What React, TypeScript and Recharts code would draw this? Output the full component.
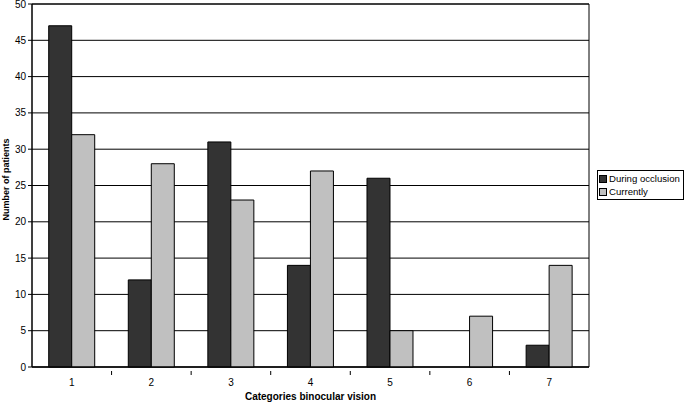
import { BarChart, Bar, XAxis, YAxis, CartesianGrid, ReferenceArea } from "recharts";

const categories = ["1", "2", "3", "4", "5", "6", "7"];
const duringOcclusion = [47, 12, 31, 14, 26, 0, 3];
const currently = [32, 28, 23, 27, 5, 7, 14];
const yTicks = [0, 5, 10, 15, 20, 25, 30, 35, 40, 45, 50];

const SERIES = [
  { key: "during", name: "During occlusion", fill: "#333333" },
  { key: "now", name: "Currently", fill: "#c0c0c0" },
];

const data = categories.map((c, i) => ({ cat: c, during: duringOcclusion[i], now: currently[i] }));

const FONT = "'Liberation Sans', Arial, sans-serif";
const BAND = 557 / categories.length;

// category label plus the little tick mark at the right boundary of each band
const CatTick = (props: any) => {
  const { x, y, payload, index } = props;
  return (
    <g>
      <text x={x} y={y + 11} textAnchor="middle" fontSize={10} fontFamily={FONT} fill="#000">{payload.value}</text>
      {index < categories.length - 1 && <line x1={x + BAND / 2} x2={x + BAND / 2} y1={y - 4} y2={y} stroke="#000" />}
    </g>
  );
};

export default function App() {
  return (
    <div style={{ position: "absolute", left: 0, top: 0, width: 685, height: 403, background: "#fff" }}>
      <BarChart width={685} height={403} data={data} margin={{ top: 4, right: 96, bottom: 0, left: 0 }}
        barCategoryGap="21%" barGap={0}>
        <CartesianGrid vertical={false} stroke="#000" strokeOpacity={1} />
        <ReferenceArea y1={0} y2={50} fill="none" stroke="#000" strokeWidth={1} ifOverflow="visible" />
        <XAxis dataKey="cat" height={36} axisLine={{ stroke: "#000" }} tickLine={false} tick={<CatTick />}
          label={{ value: "Categories binocular vision", position: "insideBottom", offset: 3, fontSize: 10, fontWeight: "bold", fill: "#000", fontFamily: FONT }} />
        <YAxis domain={[0, 50]} ticks={yTicks} width={32} interval={0} tickSize={4}
          axisLine={{ stroke: "#000" }} tickLine={{ stroke: "#000" }}
          tick={{ fontSize: 10, fill: "#000", fontFamily: FONT }}
          label={{ value: "Number of patients", angle: -90, position: "insideLeft", offset: 6, dy: -6, fontSize: 9, fontWeight: "bold", fill: "#000", fontFamily: FONT, style: { textAnchor: "middle" } }} />
        {SERIES.map(s => (
          <Bar key={s.key} dataKey={s.key} name={s.name} fill={s.fill} stroke="#000" strokeWidth={1} isAnimationActive={false} />
        ))}
      </BarChart>
      <div style={{ position: "absolute", left: 597, top: 170, width: 87, height: 30, boxSizing: "border-box", border: "1px solid #000",
        fontFamily: FONT, fontSize: 9.6, lineHeight: "13px", padding: "1px 1px", background: "#fff", color: "#000" }}>
        {SERIES.map(s => (
          <div key={s.key} style={{ display: "flex", alignItems: "center", whiteSpace: "nowrap" }}>
            <span style={{ display: "inline-block", flexShrink: 0, width: 6, height: 6, background: s.fill, border: "1px solid #000", marginRight: 2 }} />
            {s.name}
          </div>
        ))}
      </div>
    </div>
  );
}
